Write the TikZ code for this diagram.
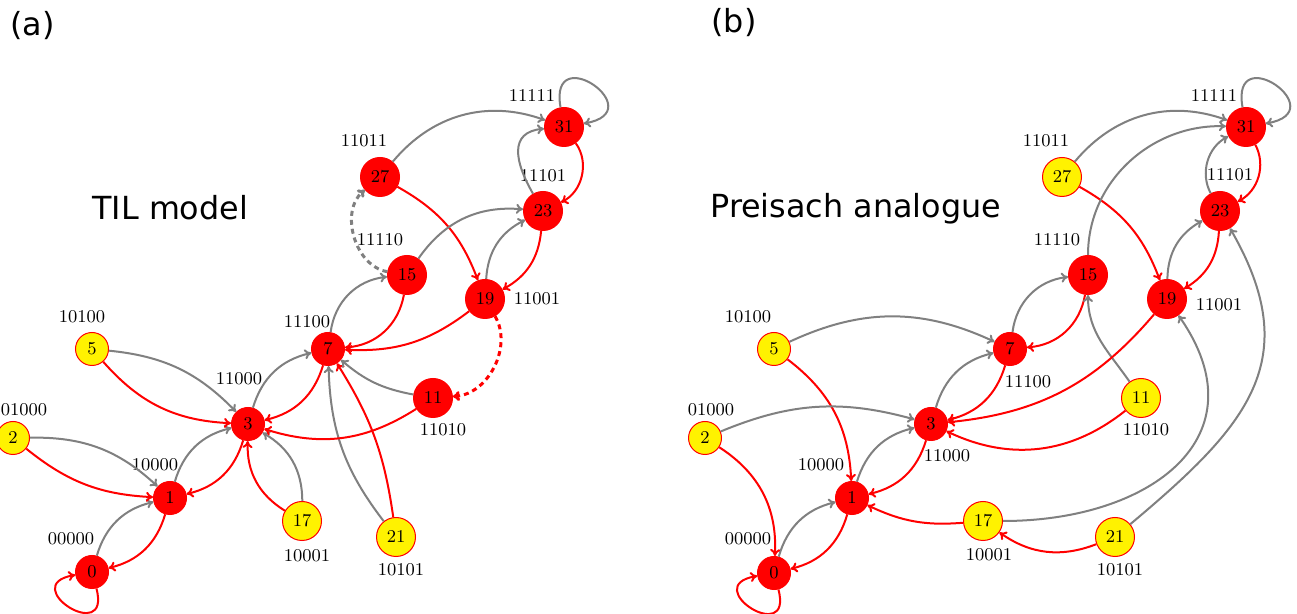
\documentclass[tikz,border=0pt]{standalone}
\usepackage{fontspec}
\newfontfamily\titlefont{DejaVu Sans}
\usetikzlibrary{arrows.meta}
\definecolor{ered}{RGB}{255,0,0}
\definecolor{eyel}{RGB}{255,242,0}
\definecolor{egray}{RGB}{128,128,128}
\begin{document}
\begin{tikzpicture}[x=0.5pt,y=0.5pt,
  st/.style={circle, inner sep=0pt, minimum size=16.5pt, font=\fontsize{9}{10}\selectfont},
  rn/.style={st, fill=ered, draw=ered, line width=0.5pt},
  yn/.style={st, fill=eyel, draw=ered, line width=0.5pt},
  big/.style={minimum size=19.5pt},
  lab/.style={inner sep=0pt, font=\fontsize{9}{10}\selectfont},
  ge/.style={draw=egray, line width=1pt, -{To[length=3.5pt,width=5pt]}},
  re/.style={draw=ered, line width=1pt, -{To[length=3.5pt,width=5pt]}},
  dsh/.style={line width=1.5pt, dash pattern=on 2.5pt off 2pt},
  ttl/.style={inner sep=0pt, anchor=base west, font=\titlefont\fontsize{15.9}{18}\selectfont},
]
\useasboundingbox (0,0) rectangle (1297,-614);
\fill[white] (0,0) rectangle (1297,-614);

% ---------- titles ----------
\node[ttl] (ta) at (10,-36) {(a)};
\node[ttl] (tb) at (711,-33) {(b)};
\node[ttl] (tila) at (92,-220) {TIL model};
\node[ttl] (preb) at (710,-218) {Preisach analogue};

% ---------- panel (a) nodes ----------
\node[rn] (a0) at (92,-572) {0};
\node[rn] (a1) at (170,-498) {1};
\node[yn] (a2) at (13,-438) {2};
\node[rn] (a3) at (248,-424) {3};
\node[yn] (a5) at (92,-349) {5};
\node[rn] (a7) at (328,-349) {7};
\node[rn,big] (a11) at (433,-398) {11};
\node[rn,big] (a15) at (407,-275) {15};
\node[yn,big] (a17) at (302,-521) {17};
\node[rn,big] (a19) at (485,-299) {19};
\node[yn,big] (a21) at (396,-537) {21};
\node[rn,big] (a23) at (543,-211) {23};
\node[rn,big] (a27) at (380,-177) {27};
\node[rn,big] (a31) at (564,-127) {31};

\node[lab] (la0) at (71,-539) {00000};
\node[lab] (la1) at (155,-465) {10000};
\node[lab] (la2) at (24,-410) {01000};
\node[lab] (la5) at (82,-317) {10100};
\node[lab] (la3) at (239,-379) {11000};
\node[lab] (la7) at (307,-322) {11100};
\node[lab] (la15) at (380,-240) {11110};
\node[lab] (la27) at (364,-141) {11011};
\node[lab] (la31) at (532,-96) {11111};
\node[lab] (la23) at (543,-176) {11101};
\node[lab] (la19) at (537,-299) {11001};
\node[lab] (la11) at (443,-430) {11010};
\node[lab] (la17) at (307,-556) {10001};
\node[lab] (la21) at (401,-570) {10101};

% ---------- panel (a) edges ----------
\draw[ge] (a0) to[bend left=30] (a1);
\draw[re] (a1) to[bend left=30] (a0);
\draw[ge] (a1) to[bend left=30] (a3);
\draw[re] (a3) to[bend left=30] (a1);
\draw[ge] (a3) to[bend left=30] (a7);
\draw[re] (a7) to[bend left=30] (a3);
\draw[ge] (a7) to[bend left=38] (a15);
\draw[re] (a15) to[bend left=38] (a7);
\draw[ge] (a19) to[bend left=30] (a23);
\draw[re] (a23) to[bend left=28] (a19);
\draw[ge] (a23) to[out=120,in=185,looseness=1.4] (a31);
\draw[re] (a31) to[bend left=50] (a23);
\draw[ge] (a27) to[bend left=35] (a31);
\draw[re] (a27) to[bend left=20] (a19);
\draw[ge] (a15) to[bend left=30] (a23);
\draw[re] (a19) to[bend left=20] (a7);
\draw[ge,dsh] (a15) to[bend left=65] (a27);
\draw[re,dsh] (a19) to[bend left=58] (a11);
\draw[ge] (a2) to[bend left=22] (a1);
\draw[re] (a2) to[bend right=18] (a1);
\draw[ge] (a5) to[bend left=20] (a3);
\draw[re] (a5) to[bend right=23] (a3);
\draw[ge] (a17) to[bend right=30] (a3);
\draw[re] (a17) to[bend left=30] (a3);
\draw[ge] (a21) to[bend left=18] (a7);
\draw[re] (a21) to[bend right=12] (a7);
\draw[ge] (a11) to[bend left=15] (a7);
\draw[re] (a11) to[bend left=25] (a3);
\draw[re] (a0.-75) .. controls +(-75:30pt) and +(190:30pt) .. (a0.190);
\draw[ge] (a31.100) .. controls +(100:35pt) and +(10:35pt) .. (a31.10);

% ---------- panel (b) nodes ----------
\node[rn] (b0) at (774,-573) {0};
\node[rn] (b1) at (852,-498) {1};
\node[yn] (b2) at (705,-438) {2};
\node[rn] (b3) at (931,-424) {3};
\node[yn] (b5) at (774,-349) {5};
\node[rn] (b7) at (1010,-349) {7};
\node[yn,big] (b11) at (1141,-398) {11};
\node[rn,big] (b15) at (1088,-275) {15};
\node[yn,big] (b17) at (983,-521) {17};
\node[rn,big] (b19) at (1167,-299) {19};
\node[yn,big] (b21) at (1115,-537) {21};
\node[rn,big] (b23) at (1220,-211) {23};
\node[yn,big] (b27) at (1062,-177) {27};
\node[rn,big] (b31) at (1246,-127) {31};

\node[lab] (lb0) at (748,-539) {00000};
\node[lab] (lb1) at (821,-465) {10000};
\node[lab] (lb2) at (711,-410) {01000};
\node[lab] (lb5) at (748,-317) {10100};
\node[lab] (lb3) at (947,-456) {11000};
\node[lab] (lb7) at (1028,-382) {11100};
\node[lab] (lb15) at (1057,-240) {11110};
\node[lab] (lb27) at (1046,-141) {11011};
\node[lab] (lb31) at (1214,-96) {11111};
\node[lab] (lb23) at (1230,-175) {11101};
\node[lab] (lb19) at (1219,-305) {11001};
\node[lab] (lb11) at (1146,-430) {11010};
\node[lab] (lb17) at (989,-555) {10001};
\node[lab] (lb21) at (1120,-570) {10101};

% ---------- panel (b) edges ----------
\draw[ge] (b0) to[bend left=30] (b1);
\draw[re] (b1) to[bend left=30] (b0);
\draw[ge] (b1) to[bend left=30] (b3);
\draw[re] (b3) to[bend left=30] (b1);
\draw[ge] (b3) to[bend left=30] (b7);
\draw[re] (b7) to[bend left=30] (b3);
\draw[ge] (b7) to[bend left=38] (b15);
\draw[re] (b15) to[bend left=38] (b7);
\draw[ge] (b19) to[bend left=30] (b23);
\draw[re] (b23) to[bend left=28] (b19);
\draw[ge] (b23) to[bend left=45] (b31);
\draw[re] (b31) to[bend left=45] (b23);
\draw[ge] (b27) to[bend left=35] (b31);
\draw[re] (b27) to[bend left=20] (b19);
\draw[ge] (b5) to[bend left=25] (b7);
\draw[re] (b5) to[bend left=25] (b1);
\draw[ge] (b2) to[bend left=19] (b3);
\draw[re] (b2) to[bend left=30] (b0);
\draw[ge] (b15) to[out=90,in=178] (b31);
\draw[ge] (b11) to[out=125,in=-90] (b15);
\draw[re] (b19) to[bend left=22] (b3);
\draw[re] (b11) to[bend left=32] (b3);
\draw[re] (b17) to[bend left=15] (b1);
\draw[re] (b21) to[bend left=28] (b17);
\draw[ge] (b17) to[out=0,in=-55,looseness=1.4] (b19);
\draw[ge] (b21) to[out=40,in=-60,looseness=1.25] (b23);
\draw[re] (b0.-75) .. controls +(-75:30pt) and +(190:30pt) .. (b0.190);
\draw[ge] (b31.100) .. controls +(100:35pt) and +(10:35pt) .. (b31.10);
\end{tikzpicture}
\end{document}
